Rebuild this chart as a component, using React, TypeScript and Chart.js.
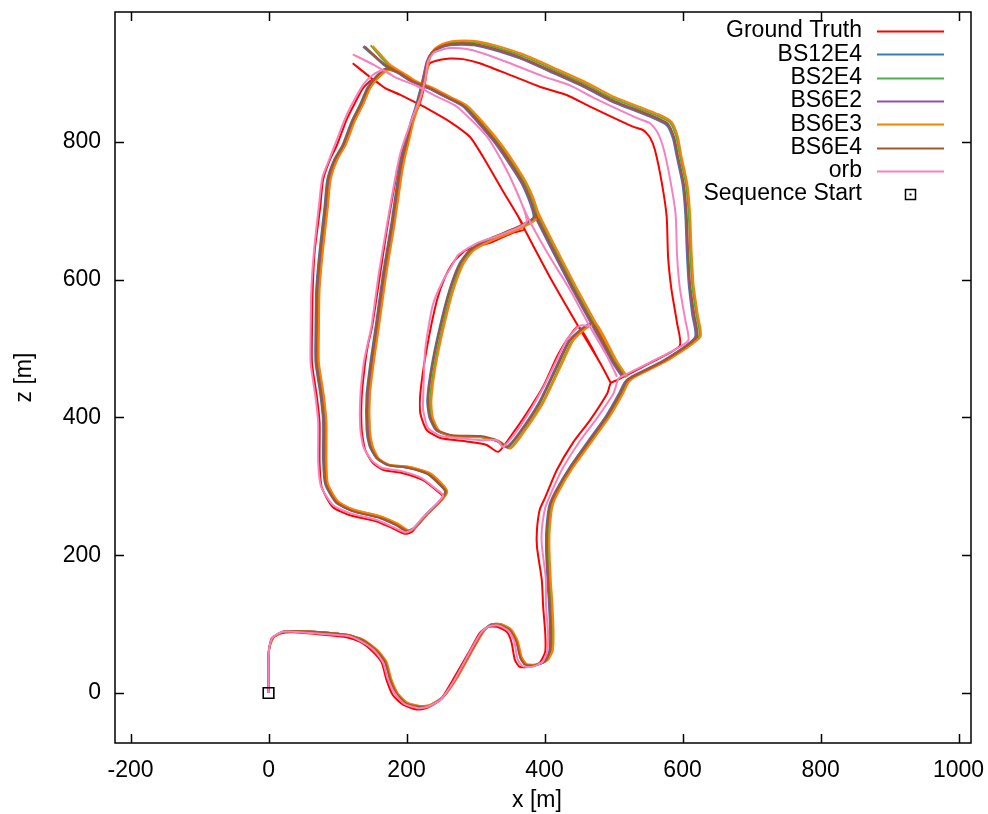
import React, { useEffect, useRef } from "react";
import { Chart, registerables } from "chart.js";

Chart.register(...registerables);

// ---------- data (metres, x / z) ----------
const seriesNames = ["Ground Truth", "BS12E4", "BS2E4", "BS6E2", "BS6E3", "BS6E4", "orb"];
const seriesColors = ["#ff0000", "#377eb8", "#4daf4a", "#984ea3", "#ff7f00", "#a65628", "#f781bf"];

const groundTruth = [
  0,0, 0,48, 1,65, 5,80, 20,87, 36,88, 75,85, 113,81, 133,74, 151,60, 164,44, 171,19, 180,-3, 195,-17, 215,-24, 229,-22, 249,-10, 267,19, 292,62, 306,87, 318,96, 331,96, 345,89, 352,74, 357,48, 364,38, 379,38, 393,44, 401,60, 401,87, 398,125, 396,164, 389,212, 389,237, 393,266, 401,284, 418,324, 441,363, 466,396, 491,435, 496,450,
  505,454, 553,479, 596,504, 592,537, 584,585, 579,633, 577,691, 570,740, 560,788, 553,806, 543,817, 528,822, 466,851, 432,868, 393,880, 345,899, 306,914, 282,920, 263,921, 249,919, 234,914, 229,902, 227,887, 220,858, 212,839, 202,815, 193,786, 186,755, 173,682, 162,610, 150,531, 144,505, 140,479, 135,430, 135,382, 140,353, 151,334, 166,324, 195,319, 224,309, 246,292, 253,285, 246,276, 224,254, 208,234, 198,231, 180,239, 157,249, 118,258, 93,270, 77,299, 74,334, 74,392, 70,430, 63,479, 63,527, 64,585, 67,643, 75,706, 79,745, 89,774, 99,795, 113,832, 125,856, 137,878, 151,890,
  169,878, 191,868, 215,856, 234,846, 263,829, 292,807, 311,778, 340,728, 361,693, 371,673, 407,605, 449,532, 480,480, 496,450, 480,480, 449,532,
  432,512, 418,488, 398,445, 374,406, 354,377, 333,350, 316,360, 287,365, 249,370, 229,382, 220,406, 220,435, 229,498, 244,570, 256,604, 270,628, 287,643, 325,655, 354,668, 371,673,
  361,693, 340,728, 311,778, 292,807, 263,829, 234,846, 215,856, 191,868, 169,878, 147,894, 122,914,
];

const bs12e4 = [
  0,0, 0,48, 1,65, 7,81, 21,89, 37,90, 76,88, 115,84, 136,77, 156,62, 169,45, 176,20, 185,0, 199,-15, 218,-20, 233,-19, 252,-7, 272,22, 296,65, 311,90, 322,99, 335,99, 350,91, 359,75, 365,51, 372,41, 385,40, 400,46, 407,62, 408,91, 406,135, 404,164, 402,215, 403,244, 407,273, 417,295, 436,327, 464,367, 489,402, 508,435, 516,451,
  526,459, 573,483, 618,516, 614,549, 609,592, 606,643, 604,694, 600,738, 591,781, 586,805, 577,824, 558,834, 494,860, 458,879, 414,899, 364,921, 324,934, 298,940, 280,941, 263,940, 249,936, 237,928, 230,915, 224,893, 219,873, 213,851, 206,829, 200,803, 192,774, 187,745, 178,682, 166,610, 155,531, 148,483, 142,433, 142,382, 146,359, 156,341, 172,331, 201,327, 230,318, 250,300, 256,292, 249,280, 227,258, 210,239, 200,235, 184,244, 161,254, 121,264, 98,276, 82,303, 79,338, 79,393, 75,433, 68,480, 68,527, 69,585, 74,643, 81,705, 85,745, 95,774, 107,795, 120,829, 132,853, 143,878, 155,894, 169,906,
  187,900, 208,887, 233,877, 258,864, 281,852, 297,835, 329,797, 348,770, 367,739, 377,717, 384,696, 406,652, 439,588, 468,535, 497,482, 513,458, 497,482, 468,535,
  454,529, 435,511, 416,472, 391,420, 362,376, 345,357, 330,366, 306,372, 266,373, 243,381, 233,400, 230,425, 236,473, 248,531, 262,585, 277,624, 291,642, 316,657, 359,675, 384,691,
  367,739, 329,797, 297,835, 281,852, 258,864, 233,877, 208,887, 187,900, 169,910, 152,925, 137,938,
];

const bs2e4 = [
  0,0, 0,48, 1,65, 7,81, 21,89, 37,90, 76,88, 115,84, 137,77, 157,62, 170,45, 177,20, 186,0, 200,-14, 219,-19, 234,-18, 253,-6, 273,23, 297,66, 312,91, 323,100, 336,100, 351,92, 360,76, 366,52, 373,42, 386,41, 402,47, 410,62, 411,91, 409,135, 407,164, 405,215, 406,244, 410,273, 420,295, 439,327, 468,367, 493,402, 512,435, 520,451,
  530,459, 577,483, 624,518, 620,549, 614,592, 611,643, 609,694, 605,738, 596,781, 591,807, 582,828, 563,838, 497,864, 461,883, 417,903, 367,925, 327,938, 301,944, 282,945, 265,944, 251,940, 239,932, 232,917, 227,893, 222,873, 216,851, 209,829, 203,803, 196,774, 191,745, 182,682, 170,610, 159,531, 152,483, 146,433, 146,382, 150,358, 159,340, 175,331, 204,328, 233,319, 253,301, 258,292, 251,281, 229,259, 212,240, 202,236, 186,245, 163,256, 123,266, 100,278, 85,304, 83,338, 83,393, 79,433, 72,480, 72,527, 73,585, 78,643, 85,705, 89,745, 99,774, 111,795, 124,829, 136,853, 147,878, 159,893, 173,904,
  191,900, 212,887, 237,877, 262,864, 285,852, 302,835, 334,797, 353,770, 372,739, 382,717, 389,696, 411,652, 444,588, 473,535, 502,482, 518,458, 502,482, 473,535,
  459,529, 440,511, 421,472, 396,420, 367,376, 349,355, 333,365, 309,371, 269,372, 246,380, 236,400, 234,425, 240,473, 252,531, 266,585, 281,624, 295,642, 320,656, 363,674, 389,691,
  372,739, 334,797, 302,835, 285,852, 262,864, 237,877, 212,887, 191,900, 174,911, 160,926, 148,940,
];

const bs6e2 = [
  0,0, 0,48, 1,65, 7,81, 21,89, 37,90, 76,88, 115,84, 136,77, 156,62, 169,45, 177,20, 186,0, 200,-15, 218,-20, 233,-18, 252,-6, 273,22, 297,65, 312,90, 323,99, 336,99, 351,91, 360,75, 366,51, 373,41, 386,40, 401,46, 408,62, 409,91, 407,135, 405,164, 403,215, 404,244, 408,273, 418,295, 437,327, 465,367, 490,402, 509,435, 517,451,
  527,459, 574,483, 619,517, 615,549, 610,592, 607,643, 605,694, 601,738, 592,781, 587,806, 578,825, 559,835, 494,861, 458,880, 414,900, 364,922, 324,935, 298,941, 279,942, 262,941, 248,937, 236,929, 229,916, 224,893, 220,873, 214,851, 207,829, 201,803, 194,774, 189,745, 180,682, 168,610, 157,531, 150,483, 144,433, 144,382, 148,359, 158,341, 174,331, 203,327, 232,318, 252,300, 258,292, 251,280, 229,258, 212,239, 202,235, 186,244, 163,254, 123,264, 100,276, 84,303, 81,338, 81,393, 77,433, 70,480, 70,527, 71,585, 76,643, 83,705, 87,745, 97,774, 109,795, 122,829, 134,853, 145,878, 157,894, 171,906,
  188,900, 209,887, 234,877, 259,864, 282,852, 298,835, 330,797, 349,770, 368,739, 378,717, 385,696, 407,652, 440,588, 469,535, 498,482, 514,458, 498,482, 469,535,
  455,529, 436,511, 417,472, 392,420, 363,376, 346,356, 331,366, 307,372, 267,373, 244,381, 234,400, 231,425, 237,473, 249,531, 263,585, 278,624, 292,642, 317,657, 360,675, 385,691,
  368,739, 330,797, 298,835, 282,852, 259,864, 234,877, 209,887, 188,900, 170,911, 153,925, 138,939,
];

const bs6e3 = [
  0,0, 0,48, 1,65, 8,81, 22,89, 38,90, 77,88, 116,84, 138,77, 158,62, 171,45, 178,20, 187,0, 201,-14, 220,-19, 235,-17, 254,-5, 274,23, 298,66, 313,91, 324,100, 337,100, 352,92, 361,76, 367,52, 374,42, 387,41, 404,47, 412,62, 413,91, 411,135, 409,164, 407,215, 408,244, 412,273, 422,295, 441,327, 470,367, 495,402, 514,435, 522,451,
  532,459, 579,483, 626,517, 622,549, 616,592, 613,643, 611,694, 607,738, 598,781, 593,808, 584,829, 565,840, 499,866, 463,885, 419,905, 369,927, 329,940, 302,946, 283,947, 266,946, 252,942, 240,934, 233,918, 228,893, 223,873, 217,851, 210,829, 204,803, 197,774, 192,745, 183,682, 171,610, 160,531, 153,483, 147,433, 147,382, 151,358, 160,340, 176,331, 205,328, 234,319, 254,301, 259,292, 252,281, 230,259, 213,240, 203,236, 187,246, 164,256, 124,266, 101,278, 86,304, 84,338, 84,393, 80,433, 73,480, 73,527, 74,585, 79,643, 86,705, 90,745, 100,775, 112,796, 125,830, 137,854, 148,879, 160,894, 174,905,
  193,901, 214,888, 239,878, 264,865, 287,853, 304,836, 336,798, 355,771, 374,740, 384,718, 391,697, 413,653, 446,589, 475,536, 504,483, 520,459, 504,483, 475,536,
  461,530, 442,512, 423,473, 398,421, 369,377, 351,355, 335,365, 311,371, 271,372, 248,380, 238,400, 236,425, 242,473, 254,531, 268,585, 283,624, 297,642, 322,656, 365,674, 391,691,
  374,740, 336,798, 304,836, 287,853, 264,865, 239,878, 214,888, 193,901, 176,912, 162,927, 151,939,
];

const bs6e4 = [
  0,0, 0,48, 1,65, 7,81, 21,89, 37,90, 76,88, 115,84, 136,77, 156,62, 169,45, 176,20, 185,0, 199,-15, 218,-20, 233,-19, 252,-7, 272,22, 296,65, 311,90, 322,99, 335,99, 350,91, 359,75, 365,51, 372,41, 385,40, 401,46, 408,62, 409,91, 407,135, 405,164, 403,215, 404,244, 408,273, 418,295, 437,327, 466,367, 491,402, 510,435, 518,451,
  528,459, 575,483, 621,517, 617,549, 611,592, 608,643, 606,694, 602,738, 593,781, 588,806, 579,826, 560,836, 495,862, 459,881, 415,901, 365,923, 325,936, 299,942, 280,943, 263,942, 249,938, 237,930, 230,916, 225,893, 220,873, 214,851, 207,829, 201,803, 193,774, 188,745, 179,682, 167,610, 156,531, 149,483, 143,433, 143,382, 147,359, 157,341, 173,331, 202,327, 231,318, 251,300, 257,292, 250,280, 228,258, 211,239, 201,235, 185,244, 162,254, 122,264, 99,276, 83,303, 80,338, 80,393, 76,433, 69,480, 69,527, 70,585, 75,643, 82,705, 86,745, 96,774, 108,795, 121,829, 133,853, 144,878, 156,894, 170,906,
  188,901, 209,888, 234,878, 259,865, 282,853, 299,836, 331,798, 350,771, 369,740, 379,718, 386,697, 408,653, 441,589, 470,536, 499,483, 515,459, 499,483, 470,536,
  456,530, 437,512, 418,473, 393,421, 364,377, 346,357, 331,367, 307,373, 267,374, 244,382, 234,401, 231,425, 237,473, 249,531, 263,585, 278,624, 292,643, 317,658, 360,676, 386,692,
  369,740, 331,798, 299,836, 282,853, 259,865, 234,878, 209,888, 188,901, 170,911, 154,925, 140,938,
];

const orb = [
  0,0, 0,48, 1,65, 6,81, 20,89, 36,89, 75,86, 114,83, 134,75, 154,61, 166,44, 173,20, 183,-1, 197,-16, 217,-22, 231,-20, 250,-9, 270,20, 294,64, 309,89, 320,97, 333,98, 348,90, 356,75, 361,49, 368,39, 382,38, 397,45, 404,61, 405,89, 402,128, 402,164, 396,215, 396,237, 401,269, 409,289, 425,324, 450,364, 476,399, 500,435, 507,456,
  515,461, 563,485, 608,511, 604,541, 596,588, 592,636, 590,694, 583,740, 573,788, 564,813, 553,827, 535,834, 473,863, 437,882, 398,895, 350,914, 309,929, 285,935, 263,936, 249,933, 239,929, 231,916, 227,890, 220,864, 212,844, 202,817, 192,787, 185,755, 172,682, 160,610, 149,531, 143,504, 138,479, 133,430, 133,383, 138,356, 150,337, 164,327, 193,322, 222,312, 244,295, 253,287, 246,277, 224,255, 208,237, 198,233, 180,241, 157,251, 118,261, 93,273, 76,300, 72,335, 72,392, 68,430, 61,479, 61,527, 62,585, 66,643, 73,707, 78,748, 89,777, 99,803, 112,836, 125,862, 138,884, 151,897, 166,904,
  183,894, 215,881, 241,867, 273,851, 317,807, 350,749, 375,692, 404,639, 437,585, 466,531, 491,488, 505,459, 491,488, 466,531,
  451,533, 432,512, 398,443, 364,386, 340,357, 331,367, 307,367, 286,369, 249,373, 231,385, 224,411, 224,425, 227,498, 238,563, 253,599, 265,619, 275,636, 302,653, 336,665, 374,684,
  350,749, 317,807, 273,851, 241,867, 215,881, 183,894, 154,911, 122,927,
];

const sequenceStart = [0, 0];

const xTicks = [-200, 0, 200, 400, 600, 800, 1000];
const yTicks = [0, 200, 400, 600, 800];
const xRange = [-222.5, 1018];
const yRange = [-72.6, 988.4];

const xTitle = "x [m]";
const yTitle = "z [m]";
const startLabel = "Sequence Start";

// ---------- helpers ----------
const seriesData = [groundTruth, bs12e4, bs2e4, bs6e2, bs6e3, bs6e4, orb];

function toPoints(flat: number[]) {
  const pts: { x: number; y: number }[] = [];
  for (let i = 0; i + 1 < flat.length; i += 2) pts.push({ x: flat[i], y: flat[i + 1] });
  return pts;
}

const FONT = '23px "Liberation Sans", Arial, Helvetica, sans-serif';

const framePlugin = {
  id: "gnuFrame",
  beforeDatasetsDraw(chart: any) {
    const { ctx, chartArea, scales } = chart;
    const { left, right, top, bottom } = chartArea;
    ctx.save();
    ctx.strokeStyle = "#000";
    ctx.lineWidth = 1.5;
    const tl = 9;
    ctx.beginPath();
    for (const v of xTicks) {
      const px = Math.round(scales.x.getPixelForValue(v)) + 0.5;
      ctx.moveTo(px, bottom); ctx.lineTo(px, bottom - tl);
      ctx.moveTo(px, top); ctx.lineTo(px, top + tl);
    }
    for (const v of yTicks) {
      const py = Math.round(scales.y.getPixelForValue(v)) + 0.5;
      ctx.moveTo(left, py); ctx.lineTo(left + tl, py);
      ctx.moveTo(right, py); ctx.lineTo(right - tl, py);
    }
    ctx.stroke();
    ctx.lineWidth = 1.5;
    ctx.strokeRect(left, top, right - left, bottom - top);

    ctx.fillStyle = "#000";
    ctx.font = FONT;
    ctx.textAlign = "center";
    ctx.textBaseline = "middle";
    for (const v of xTicks) {
      ctx.fillText(String(v), scales.x.getPixelForValue(v), bottom + 28);
    }
    ctx.textAlign = "right";
    for (const v of yTicks) {
      ctx.fillText(String(v), left - 14, scales.y.getPixelForValue(v));
    }
    ctx.textAlign = "center";
    ctx.fillText(xTitle, 537, bottom + 58);
    ctx.save();
    ctx.translate(25, (top + bottom) / 2);
    ctx.rotate(-Math.PI / 2);
    ctx.fillText(yTitle, 0, 0);
    ctx.restore();
    ctx.restore();
  },
  afterDraw(chart: any) {
    const { ctx } = chart;
    ctx.save();
    ctx.font = FONT;
    ctx.textAlign = "right";
    ctx.textBaseline = "middle";
    const textX = 862;
    const x0 = 877;
    const x1 = 944;
    const y0 = 31;
    const step = 23.3;
    seriesNames.forEach((name, i) => {
      const y = y0 + i * step;
      ctx.fillStyle = "#000";
      ctx.fillText(name, textX, y);
      ctx.strokeStyle = seriesColors[i];
      ctx.lineWidth = 2;
      ctx.beginPath();
      ctx.moveTo(x0, Math.round(y) + 0.5);
      ctx.lineTo(x1, Math.round(y) + 0.5);
      ctx.stroke();
    });
    const ys = y0 + seriesNames.length * step;
    ctx.fillStyle = "#000";
    ctx.fillText(startLabel, textX, ys);
    ctx.strokeStyle = "#000";
    ctx.lineWidth = 1.5;
    const cx = 910.5, cy = Math.round(ys) + 0.5;
    ctx.strokeRect(cx - 5, cy - 5, 10, 10);
    ctx.fillRect(cx - 1, cy - 1, 2, 2);
    ctx.restore();
  },
};

export default function App() {
  const ref = useRef<HTMLCanvasElement | null>(null);

  useEffect(() => {
    if (!ref.current) return;
    const datasets: any[] = seriesData.map((flat, i) => ({
      label: seriesNames[i],
      data: toPoints(flat),
      showLine: true,
      borderColor: seriesColors[i],
      backgroundColor: seriesColors[i],
      borderWidth: 2,
      pointRadius: 0,
      tension: 0.2,
      order: 20 - i,
    }));
    datasets.push({
      label: startLabel,
      data: toPoints(sequenceStart),
      showLine: false,
      pointStyle: "rect",
      pointRadius: 7.5,
      borderColor: "#000",
      backgroundColor: "rgba(0,0,0,0)",
      borderWidth: 1.6,
      order: 1,
    });

    const chart = new Chart(ref.current, {
      type: "scatter",
      data: { datasets },
      options: {
        responsive: false,
        animation: false,
        devicePixelRatio: 1,
        layout: { padding: { left: 0, right: 17, top: 12, bottom: 0 } },
        plugins: { legend: { display: false }, tooltip: { enabled: false } },
        scales: {
          x: {
            type: "linear",
            min: xRange[0],
            max: xRange[1],
            ticks: { display: false },
            grid: { display: false },
            border: { display: false },
            afterFit: (s: any) => { s.height = 71; },
          },
          y: {
            type: "linear",
            min: yRange[0],
            max: yRange[1],
            ticks: { display: false },
            grid: { display: false },
            border: { display: false },
            afterFit: (s: any) => { s.width = 115; },
          },
        },
      } as any,
      plugins: [framePlugin],
    });
    return () => chart.destroy();
  }, []);

  return (
    <div style={{ position: "absolute", left: 0, top: 0, width: 988, height: 814, background: "#fff" }}>
      <canvas ref={ref} width={988} height={814} style={{ display: "block" }} />
    </div>
  );
}
